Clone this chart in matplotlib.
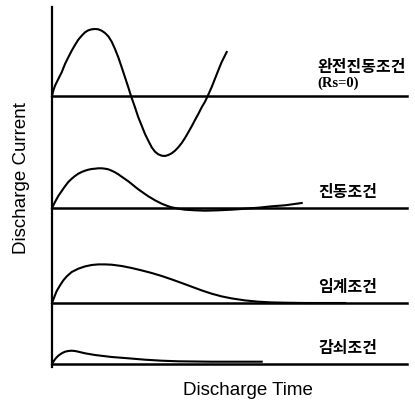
import matplotlib.pyplot as plt

plt.rcParams['font.family'] = ['Noto Sans CJK KR', 'DejaVu Sans']

# ============ 데이터 ============
# 완전진동조건 (Rs=0)
t_full = [0, 1.3, 3, 6.3, 9.7, 13, 16.3, 19.7, 23, 26.3, 29.7, 33, 36.3, 39.7, 43,
          46.3, 49.7, 53, 56.3, 59.7, 63, 66.3, 69.7, 73, 76.3, 79, 83, 86.3, 89.7,
          93, 96.3, 99.7, 103, 106.3, 109.7, 113, 116.3, 119.7, 123, 126.3, 129.7,
          133, 136.3, 139.7, 143, 146.3, 149.7, 153, 155.7, 159.7, 163, 166.3,
          169.7, 174.7]
i_full = [0, 5.3, 10.3, 17, 23.7, 32, 38.7, 45.3, 51, 56.3, 60.3, 63.7, 65.7, 66.7, 67,
          66.7, 65.3, 63, 59.7, 54.3, 47, 38.7, 28.7, 18.7, 8.7, 0, -11.3, -21.3, -29.7,
          -38, -44.7, -51.3, -55.7, -58.3, -59.7, -60, -59, -57.3, -54.7, -51.3, -47,
          -42, -36.3, -30.3, -24, -18, -11.3, -5.7, 0, 9, 17.3, 25.7, 34, 44]

# 진동조건
t_osc = [0, 3, 6.3, 9.7, 13, 16.3, 19.7, 23, 26.3, 29.7, 33, 36.3, 39.7, 43, 46.3,
         49.7, 53, 56.3, 59.7, 63, 66.3, 69.7, 73, 76.3, 79.7, 83, 86.3, 89.7, 93,
         96.3, 99.7, 103, 106.3, 109.7, 113, 116.3, 119.7, 126.3, 133, 143, 153,
         166.3, 179.7, 193, 206.3, 219.7, 233, 249.7]
i_osc = [0, 6, 12, 17, 21.7, 26, 29.3, 32, 34.3, 36, 37.3, 38.3, 39, 39.3, 39.7,
         39.7, 39.3, 38.7, 37.3, 35.7, 33.7, 31.3, 29, 26.7, 24, 21.3, 18.7, 16.3, 14,
         11.7, 9.7, 7.7, 6, 4.3, 3, 1.7, 0.7, -0.7, -1.7, -2.3, -2.7, -2.3, -1.7,
         -0.7, 0.3, 1.7, 2.7, 5]

# 임계조건
t_crit = [0, 2.3, 4.7, 8, 11.3, 14.7, 19.7, 26.3, 33, 39.7, 46.3, 53, 59.7, 69.7,
          79.7, 89.7, 99.7, 109.7, 119.7, 129.7, 139.7, 149.7, 159.7, 169.7, 179.7,
          193, 206.3, 219.7, 233, 253, 293]
i_crit = [0, 6, 12, 17.6, 22.6, 26.6, 31, 34.3, 36.6, 38, 38.6, 38.6, 38.3, 37, 35,
          32.6, 30, 27, 23.6, 20, 16.3, 12.6, 9.3, 6.6, 4.6, 2.6, 1.3, 0.6, 0.3, 0, 0]

# 감쇠조건
t_damp = [0, 2, 4, 6.3, 9.7, 13, 16.3, 19.7, 23, 26.3, 33, 43, 59.7, 76.3, 93, 109.7,
          126.3, 159.7, 209.7]
i_damp = [0, 3.3, 6, 8.3, 10.7, 12.3, 13, 13.3, 13, 12.3, 10.7, 9, 7, 5.7, 4.3, 3.3,
          2.7, 2.3, 2.3]

labels = ['완전진동조건', '진동조건', '임계조건', '감쇠조건']

# ============ 그리기 ============
fig = plt.figure(figsize=(4.15, 4.02), dpi=100)
ax = fig.add_axes([0, 0, 1, 1])
ax.set_xlim(-52, 363)
ax.set_ylim(0, 402)
ax.axis('off')

baselines = [305, 193, 98, 37]
series = [(t_full, i_full), (t_osc, i_osc), (t_crit, i_crit), (t_damp, i_damp)]

# 세로축
ax.plot([0, 0], [34, 394], color='black', lw=1.6)

for (t, i), b in zip(series, baselines):
    ax.plot([0, 355], [b, b], color='black', lw=1.8)
    ax.plot(t, [v + b for v in i], color='black', lw=1.5)

# 라벨
kw = dict(fontsize=11.5, fontweight='bold', va='center')
ax.text(265, 335, labels[0], **kw)
ax.text(265, 319, '(Rs=0)', fontsize=10.5, family='Liberation Serif',
        fontweight='bold', va='center')
ax.text(266, 210, labels[1], **kw)
ax.text(266, 115, labels[2], **kw)
ax.text(266, 54, labels[3], **kw)

ax.text(-30, 224, 'Discharge Current', fontsize=13.5, family='Liberation Sans',
        rotation=90, ha='center', va='center')
ax.text(196, 11, 'Discharge Time', fontsize=13.5, family='Liberation Sans',
        ha='center', va='center')

plt.savefig('out.png', dpi=100)
